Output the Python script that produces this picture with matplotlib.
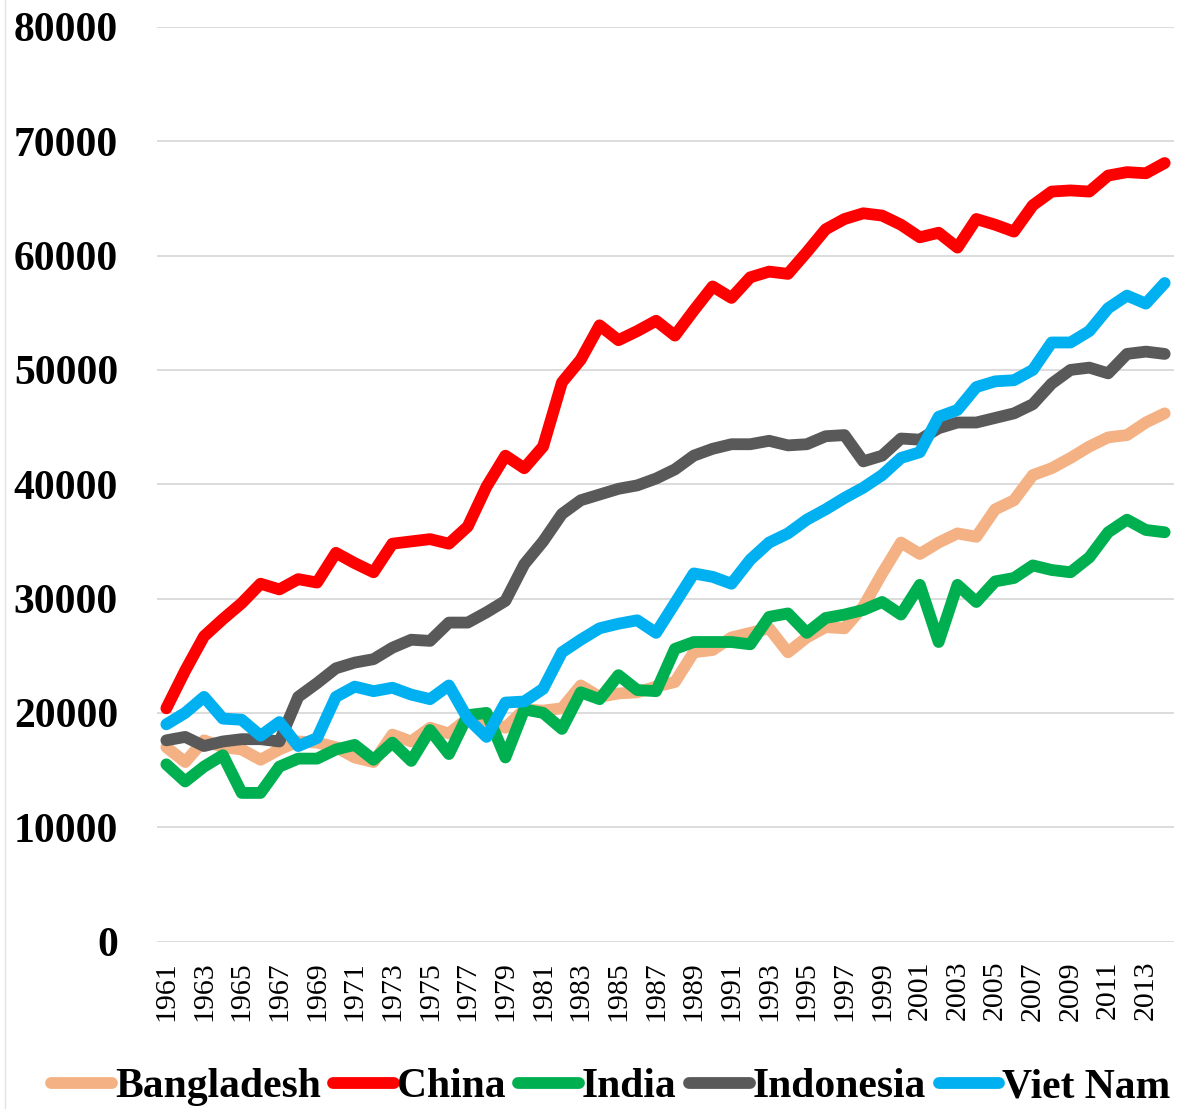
import matplotlib
matplotlib.use("Agg")
import matplotlib.pyplot as plt
from matplotlib.lines import Line2D

plt.rcParams['font.family'] = ['Liberation Serif', 'DejaVu Serif']

years = list(range(1961, 2015))

bangladesh = [17000, 15700, 17600, 17000, 16800, 15900, 16800, 17500, 17400, 17000,
              16100, 15700, 18100, 17500, 18700, 18200, 19500, 19300, 18700, 20300,
              20200, 20400, 22400, 21400, 21700, 21800, 22300, 22700, 25300, 25500,
              26600, 27000, 27400, 25300, 26600, 27500, 27400, 29300, 32200, 34900,
              33900, 34900, 35700, 35400, 37800, 38600, 40800, 41400, 42300, 43300,
              44100, 44300, 45400, 46200]

china = [20400, 23700, 26700, 28200, 29600, 31300, 30800, 31700, 31400, 34000,
         33100, 32300, 34800, 35000, 35200, 34800, 36300, 39800, 42500, 41400,
         43300, 48900, 50900, 53900, 52600, 53400, 54300, 53000, 55200, 57300,
         56300, 58100, 58600, 58400, 60300, 62300, 63200, 63700, 63500, 62700,
         61600, 62000, 60700, 63200, 62700, 62100, 64400, 65600, 65700, 65600,
         67000, 67300, 67200, 68100]

india = [15500, 14000, 15300, 16300, 13000, 13000, 15300, 16000, 16000, 16800,
         17200, 15900, 17400, 15800, 18500, 16400, 19800, 20000, 16100, 20300,
         20000, 18600, 21800, 21200, 23300, 22000, 21900, 25600, 26200, 26200,
         26200, 26000, 28400, 28700, 27000, 28300, 28600, 29000, 29700, 28600,
         31200, 26200, 31200, 29700, 31500, 31800, 32900, 32500, 32300, 33600,
         35800, 36900, 36000, 35800]

indonesia = [17600, 17900, 17100, 17500, 17700, 17700, 17500, 21400, 22600, 23900,
             24400, 24700, 25700, 26400, 26300, 27900, 27900, 28800, 29800, 33000,
             35000, 37400, 38600, 39100, 39600, 39900, 40500, 41300, 42500, 43100,
             43500, 43500, 43800, 43400, 43500, 44200, 44300, 42000, 42500, 44000,
             43900, 44900, 45400, 45400, 45800, 46200, 47000, 48800, 50000, 50200,
             49700, 51400, 51600, 51400]

viet_nam = [19000, 20000, 21400, 19500, 19400, 18000, 19200, 17100, 17800, 21400,
            22300, 21900, 22200, 21600, 21200, 22400, 19500, 17900, 20900, 21000,
            22100, 25300, 26400, 27400, 27800, 28100, 27000, 29600, 32200, 31900,
            31300, 33400, 34900, 35700, 36900, 37800, 38800, 39700, 40800, 42300,
            42800, 45900, 46500, 48500, 49000, 49100, 50000, 52400, 52400, 53400,
            55400, 56500, 55800, 57600]

series = {
    'Bangladesh': (bangladesh, '#F4B183'),
    'China': (china, '#FF0000'),
    'India': (india, '#00B050'),
    'Indonesia': (indonesia, '#595959'),
    'Viet Nam': (viet_nam, '#00B0F0'),
}

fig = plt.figure(figsize=(11.8, 11.09), dpi=100)
ax = fig.add_axes([0.133, 0.151, 0.862, 0.8247])

x = list(range(len(years)))
for name, (vals, col) in series.items():
    ax.plot(x, vals, color=col, lw=8.5, label=name,
            solid_capstyle='round', solid_joinstyle='round')

ax.set_xlim(-0.5, len(years) - 0.5)
ax.set_ylim(0, 80000)
ax.set_yticks(range(0, 80001, 10000))
ax.set_xticks(x[::2])
ax.set_xticklabels([str(y) for y in years[::2]], rotation=90, fontsize=21.5)
ax.tick_params(axis='x', length=0, pad=14)
ax.tick_params(axis='y', length=0, pad=28, labelsize=30)
for lbl in ax.get_yticklabels():
    lbl.set_fontweight('bold')

ax.grid(axis='y', color='#D9D9D9', lw=1.3)
ax.set_axisbelow(True)
for s in ax.spines.values():
    s.set_visible(False)

# thin frame line down the left side of the chart area
fig.add_artist(Line2D([5 / 1180, 5 / 1180], [0, 1], color='#E3E3E3', lw=1,
                      transform=fig.transFigure))

fig.legend(loc='center', bbox_to_anchor=(611 / 1180, 1 - 1087 / 1109), ncol=5,
           frameon=False, prop={'weight': 'bold', 'size': 30},
           handlelength=1.45, handletextpad=0.08, columnspacing=0.3,
           borderaxespad=0, borderpad=0)

fig.savefig('out.png', dpi=100)
